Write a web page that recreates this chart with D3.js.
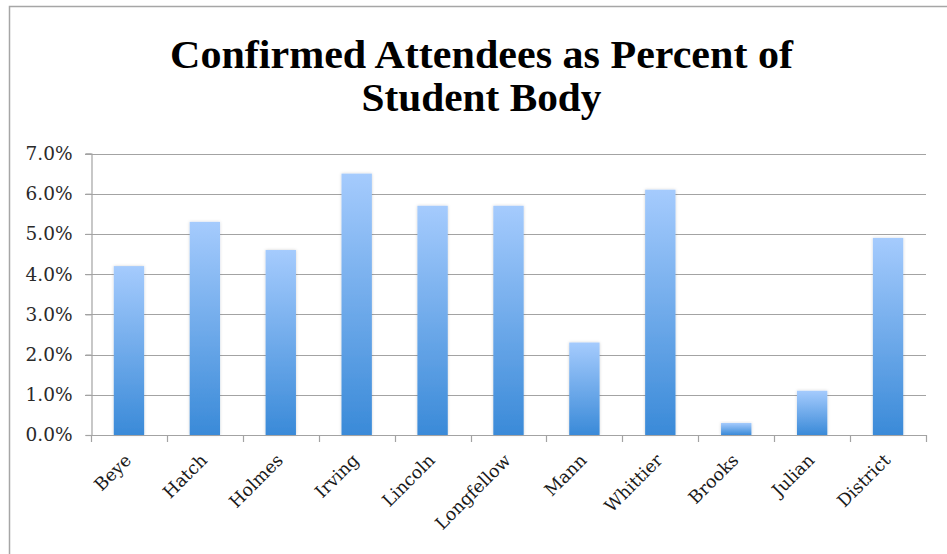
<!DOCTYPE html>
<html>
<head>
<meta charset="utf-8">
<script src="https://cdn.jsdelivr.net/npm/d3@7/dist/d3.min.js"></script>
<style>
  html, body { margin: 0; padding: 0; background: #fff; }
  svg { display: block; }
</style>
</head>
<body>
<svg id="chart" width="947" height="554"></svg>
<script>
const categories = ["Beye", "Hatch", "Holmes", "Irving", "Lincoln", "Longfellow", "Mann", "Whittier", "Brooks", "Julian", "District"];
const values = [4.2, 5.3, 4.6, 6.5, 5.7, 5.7, 2.3, 6.1, 0.3, 1.1, 4.9];
const yTicks = [0, 1, 2, 3, 4, 5, 6, 7];
const titleLines = ["Confirmed Attendees as Percent of", "Student Body"];

const svg = d3.select("#chart");
const W = 947, H = 554;
const plot = { left: 91, right: 926, top: 153.5, bottom: 435 };

// outer frame
svg.append("rect")
  .attr("x", 9.5).attr("y", 6.5)
  .attr("width", W + 20).attr("height", H + 20)
  .attr("fill", "none").attr("stroke", "#a6a6a6").attr("stroke-width", 1.5);

const defs = svg.append("defs");
const grad = defs.append("linearGradient")
  .attr("id", "barGrad").attr("x1", 0).attr("y1", 0).attr("x2", 0).attr("y2", 1);
grad.append("stop").attr("offset", "0%").attr("stop-color", "#a5cbfd");
grad.append("stop").attr("offset", "100%").attr("stop-color", "#3a8ad8");
const filt = defs.append("filter").attr("id", "shadow")
  .attr("x", "-30%").attr("y", "-10%").attr("width", "160%").attr("height", "120%");
filt.append("feDropShadow").attr("dx", 0).attr("dy", 0)
  .attr("stdDeviation", 1.5).attr("flood-color", "#000").attr("flood-opacity", 0.18);

// title
const title = svg.append("g");
const titleX = [481.5, 481.5];
const titleY = [68, 111];
const titleW = [623, 240];
titleLines.forEach((t, i) => {
  title.append("text")
    .attr("x", titleX[i]).attr("y", titleY[i])
    .attr("text-anchor", "middle")
    .attr("font-family", "'Liberation Serif', serif")
    .attr("font-weight", "bold")
    .attr("font-size", 39)
    .attr("textLength", titleW[i])
    .attr("lengthAdjust", "spacingAndGlyphs")
    .attr("fill", "#000")
    .text(t);
});

const x = d3.scaleBand()
  .domain(categories)
  .range([plot.left, plot.right])
  .paddingInner(0.6)
  .paddingOuter(0.3);

const y = d3.scaleLinear()
  .domain([0, 7])
  .range([plot.bottom, plot.top]);

// gridlines
svg.append("g")
  .selectAll("line")
  .data(yTicks.filter(d => d > 0))
  .join("line")
  .attr("x1", plot.left - 6).attr("x2", plot.right)
  .attr("y1", d => Math.round(y(d)) + 0.5).attr("y2", d => Math.round(y(d)) + 0.5)
  .attr("stroke", "#a3a3a3").attr("stroke-width", 1.2);

// y axis
const yAxis = svg.append("g")
  .attr("transform", `translate(${plot.left + 0.5},0)`)
  .call(d3.axisLeft(y).tickValues(yTicks).tickSize(6).tickPadding(13)
    .tickFormat(d => d.toFixed(1) + "%"));
yAxis.select(".domain").attr("stroke", "#a3a3a3").attr("stroke-width", 1.2);
yAxis.selectAll(".tick line").attr("stroke", "#a3a3a3").attr("stroke-width", 1.2);
yAxis.selectAll(".tick text")
  .attr("font-family", "'DejaVu Serif', serif")
  .attr("font-size", 18.5)
  .attr("fill", "#2a2a2a");

// bars
svg.append("g")
  .selectAll("rect")
  .data(values)
  .join("rect")
  .attr("x", (d, i) => x(categories[i]))
  .attr("y", d => y(d))
  .attr("width", x.bandwidth())
  .attr("height", d => y(0) - y(d))
  .attr("fill", "url(#barGrad)")
  .attr("filter", "url(#shadow)");

// x axis
const step = x.step();
const boundaries = d3.range(categories.length + 1).map(i => plot.left + i * step);
const xAxisG = svg.append("g");
xAxisG.append("line")
  .attr("x1", plot.left).attr("x2", plot.right)
  .attr("y1", plot.bottom + 0.5).attr("y2", plot.bottom + 0.5)
  .attr("stroke", "#a3a3a3").attr("stroke-width", 1.2);
xAxisG.selectAll("line.tk")
  .data(boundaries)
  .join("line").attr("class", "tk")
  .attr("x1", d => Math.round(d) + 0.5).attr("x2", d => Math.round(d) + 0.5)
  .attr("y1", plot.bottom).attr("y2", plot.bottom + 7)
  .attr("stroke", "#a3a3a3").attr("stroke-width", 1.2);

xAxisG.selectAll("text")
  .data(categories)
  .join("text")
  .attr("transform", d => `translate(${x(d) + x.bandwidth() / 2 - 1},${plot.bottom + 22}) rotate(-45)`)
  .attr("text-anchor", "end")
  .attr("dy", "0.35em")
  .attr("font-family", "'DejaVu Serif', serif")
  .attr("font-size", 17.5)
  .attr("fill", "#1a1a1a")
  .text(d => d);
</script>
</body>
</html>
